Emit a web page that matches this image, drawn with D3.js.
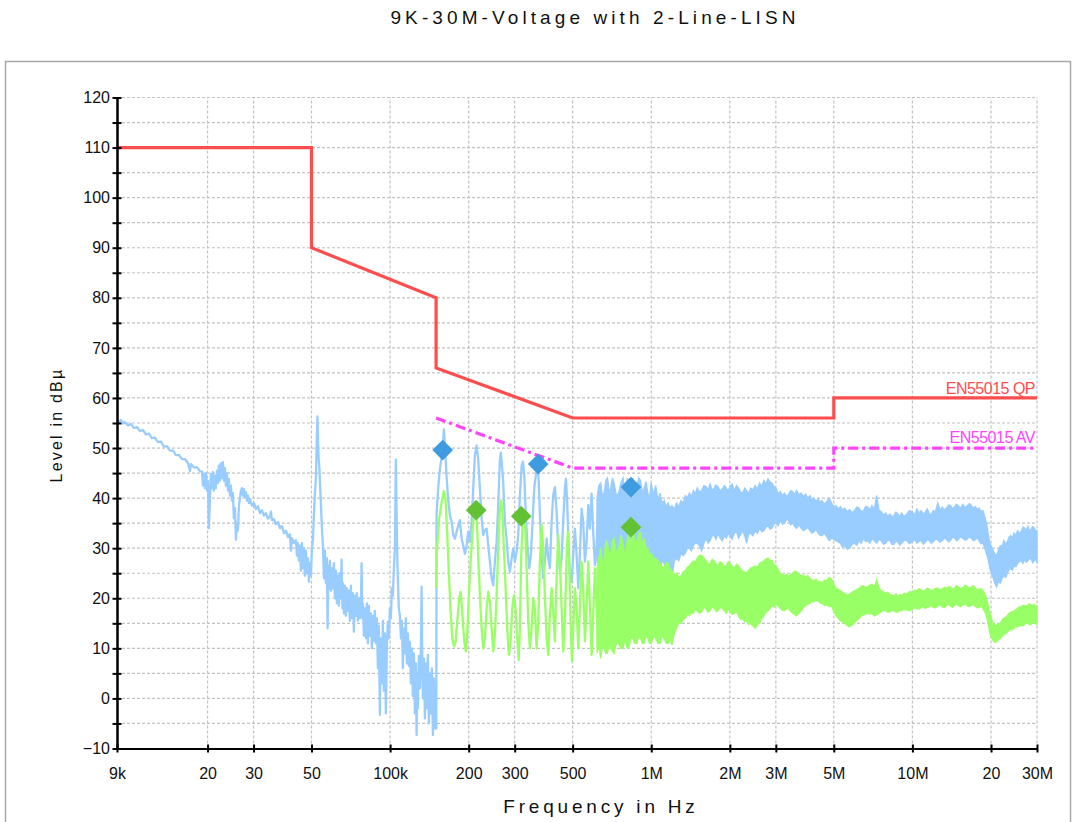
<!DOCTYPE html>
<html>
<head>
<meta charset="utf-8">
<script src="https://cdn.jsdelivr.net/npm/d3@7"></script>
<style>
  body { margin: 0; background: #fff; }
  svg { display: block; font-family: "Liberation Sans", Arial, sans-serif; }
</style>
</head>
<body>
<svg id="chart" width="1076" height="822"></svg>
<script>
// ---- axis definitions ----
const levelTicks = [-10, 0, 10, 20, 30, 40, 50, 60, 70, 80, 90, 100, 110, 120];
const levelMinorTicks = [-5, 5, 15, 25, 35, 45, 55, 65, 75, 85, 95, 105, 115];
const gridLevels = [-5, 0, 5, 10, 15, 20, 25, 30, 35, 40, 45, 50, 55, 60, 65, 70, 75, 80, 85, 90, 95, 100, 105, 110, 115, 120];
const freqTicks = [9e3, 2e4, 3e4, 5e4, 1e5, 2e5, 3e5, 5e5, 1e6, 2e6, 3e6, 5e6, 1e7, 2e7, 3e7];
const freqTickLabels = ["9k", "20", "30", "50", "100k", "200", "300", "500", "1M", "2M", "3M", "5M", "10M", "20", "30M"];

// ---- EN55015 limit lines [Hz, dBµV] ----
const qpLimit = [[9e3, 110], [50e3, 110], [50e3, 90], [150e3, 80], [150e3, 66], [500e3, 56], [5e6, 56], [5e6, 60], [30e6, 60]];
const avLimit = [[150e3, 56], [500e3, 46], [5e6, 46], [5e6, 50], [30e6, 50]];

// ---- peak detector trace, 9 kHz .. 640 kHz [kHz, dBµV] ----
const peakTrace = [
  [9.00,55.7],[9.16,55.2],[9.32,55.6],[9.49,54.9],[9.65,55.2],[9.91,54.5],[10.18,54.8],[10.45,54.0],[10.73,54.2],[11.02,53.4],
  [11.31,53.6],[11.62,52.7],[11.92,52.9],[12.24,52.0],[12.57,52.1],[12.91,51.2],[13.26,51.3],[13.61,50.3],[13.98,50.4],[14.35,49.5],
  [14.74,49.5],[15.13,48.6],[15.54,48.6],[15.96,47.8],[16.38,47.8],[16.82,47.0],[17.12,45.4],[17.27,46.8],[17.74,46.1],[18.21,46.2],
  [18.70,45.4],[19.03,45.3],[19.20,42.5],[19.37,44.8],[19.54,42.0],[19.71,45.0],[19.89,41.5],[20.06,43.5],[20.24,34.0],[20.42,40.0],
  [20.60,44.8],[20.78,42.0],[20.97,45.2],[21.15,41.5],[21.34,44.5],[21.53,42.0],[21.72,45.5],[21.91,43.0],[22.10,46.5],[22.30,43.5],
  [22.50,47.0],[22.70,44.0],[22.90,47.2],[23.10,43.5],[23.31,46.0],[23.51,42.5],[23.72,45.0],[23.93,41.5],[24.14,43.8],[24.36,40.5],
  [24.57,42.5],[24.79,39.5],[25.01,41.0],[25.23,36.0],[25.46,38.0],[25.68,31.7],[25.91,35.0],[26.14,33.5],[26.37,38.5],[26.61,40.0],
  [26.84,41.5],[27.08,42.0],[27.32,40.5],[27.56,41.8],[27.81,40.2],[28.05,41.2],[28.30,39.5],[28.55,40.5],[28.81,39.0],[29.06,39.8],
  [29.58,38.5],[30.11,39.0],[30.64,37.8],[31.18,38.4],[31.74,37.0],[32.30,37.6],[32.88,36.5],[33.46,37.0],[34.06,35.9],[34.66,36.3],
  [34.97,37.3],[35.28,35.6],[35.90,35.8],[36.54,34.8],[37.19,35.2],[37.85,34.0],[38.52,34.4],[39.21,33.0],[39.91,33.5],[40.62,32.2],
  [41.34,32.8],[41.71,29.5],[42.08,32.0],[42.82,31.0],[43.58,31.6],[43.97,28.5],[44.36,31.0],[44.75,27.5],[45.15,30.5],[45.55,25.5],
  [45.95,31.0],[46.36,26.0],[46.77,30.0],[47.18,24.5],[47.60,29.5],[48.02,25.0],[48.45,28.0],[48.88,23.3],[49.31,27.0],[49.75,24.5],
  [50.19,30.0],[50.63,31.5],[51.08,36.7],[51.53,41.0],[51.99,44.0],[52.45,53.0],[52.68,56.3],[53.06,50.0],[53.30,47.7],[53.63,46.0],
  [53.85,43.3],[54.33,39.0],[54.81,34.0],[55.30,30.5],[55.79,24.0],[56.28,29.5],[56.78,23.0],[57.28,28.0],[57.63,14.0],[58.04,26.5],
  [58.29,22.0],[58.81,27.5],[59.33,21.5],[59.86,26.0],[60.39,22.0],[60.92,27.0],[61.46,20.0],[62.00,25.5],[62.55,19.0],[63.11,24.5],
  [63.67,18.5],[64.23,25.0],[64.80,20.0],[65.20,27.7],[65.66,18.0],[65.95,23.0],[66.54,17.0],[67.13,22.5],[67.72,16.5],[68.32,22.0],
  [68.93,17.5],[69.54,21.5],[70.15,15.5],[70.77,22.5],[71.40,16.0],[72.03,21.0],[72.67,13.3],[73.31,20.5],[73.96,16.5],[74.61,21.0],
  [75.27,15.5],[75.94,20.0],[76.61,16.0],[77.29,19.0],[77.77,27.0],[78.32,16.0],[78.67,19.0],[79.36,12.5],[80.06,18.0],[80.77,12.0],
  [81.48,19.0],[82.21,11.0],[82.93,18.5],[83.67,12.5],[84.41,17.0],[85.16,10.0],[85.91,16.5],[86.67,11.5],[87.44,17.5],[88.21,11.0],
  [88.99,16.0],[89.78,6.0],[90.57,14.5],[91.38,-3.3],[92.18,12.0],[93.00,3.0],[93.82,15.5],[94.66,1.5],[95.50,13.0],[96.34,-3.0],
  [97.20,10.5],[98.06,15.3],[98.93,12.0],[99.80,18.0],[100.7,16.0],[101.6,22.0],[102.5,20.5],[103.4,26.0],[104.3,30.0],[105.2,47.7],
  [106.1,34.0],[106.6,27.3],[107.1,24.0],[108.0,18.0],[109.0,16.5],[110.0,12.0],[110.9,15.5],[111.9,6.0],[112.9,14.0],[113.9,9.0],
  [114.9,16.0],[115.9,7.0],[117.0,13.0],[118.0,6.5],[119.0,11.3],[120.1,3.0],[121.2,10.0],[122.2,0.5],[123.3,9.0],[124.4,-3.0],
  [125.5,7.0],[126.3,-7.3],[127.2,5.0],[127.7,-2.0],[128.9,8.5],[130.0,2.0],[131.2,10.0],[132.0,22.3],[132.9,6.0],[133.5,0.0],
  [134.7,8.0],[135.9,-4.0],[137.1,7.0],[138.3,-2.0],[139.5,8.7],[140.8,-5.0],[142.0,5.0],[143.3,-3.0],[144.5,6.0],[145.8,-7.3],
  [147.1,4.0],[148.4,-6.0],[149.7,0.0],[150.3,-6.0],[150.6,36.6],[152.8,41.9],[154.7,45.2],[158.9,49.9],[160.7,53.7],[162.5,49.9],
  [164.4,44.6],[166.7,39.9],[169.4,36.6],[172.0,35.3],[174.5,32.6],[177.1,31.9],[179.7,33.3],[185.0,35.6],[187.9,31.9],[190.6,30.6],
  [193.4,28.9],[196.3,30.6],[199.1,33.3],[202.1,31.3],[205.2,35.3],[208.1,41.9],[211.2,48.5],[214.4,50.5],[217.4,47.9],[220.7,41.9],
  [224.1,35.9],[227.3,32.6],[230.7,33.6],[234.2,33.9],[237.6,30.6],[241.1,27.3],[244.7,24.0],[248.3,22.6],[251.9,27.3],[255.8,31.3],
  [259.4,38.6],[263.3,47.9],[265.6,49.1],[268.7,45.9],[271.1,43.2],[275.2,35.3],[279.3,31.9],[283.3,27.3],[287.6,25.3],[292.0,28.0],
  [296.1,29.9],[300.5,27.3],[305.1,29.3],[309.5,32.6],[314.1,40.6],[318.9,46.5],[322.6,47.3],[326.4,44.6],[331.3,35.9],[336.3,29.9],
  [341.1,26.0],[346.0,28.6],[351.2,35.3],[356.3,41.9],[361.7,44.6],[366.5,47.0],[370.4,43.9],[374.6,36.6],[380.3,28.6],[385.7,24.0],
  [391.5,27.3],[397.5,31.9],[403.2,28.0],[409.2,26.0],[415.4,35.3],[421.4,40.6],[427.6,42.2],[434.2,37.3],[440.4,29.9],[446.9,25.3],
  [453.6,28.0],[460.1,35.3],[467.0,41.9],[471.2,43.9],[476.6,39.2],[482.6,29.9],[488.1,24.6],[495.6,23.3],[502.7,28.6],[510.1,33.9],
  [518.0,28.6],[525.4,22.0],[533.0,28.6],[541.1,37.9],[548.8,35.3],[557.1,27.3],[565.5,31.3],[573.7,38.6],[582.1,33.9],[590.9,40.9],
  [599.4,33.3],[608.4,26.6],[617.6,30.6],[626.5,38.6],[635.8,32.6]
];

// ---- average detector trace, 150 kHz .. 640 kHz [kHz, dBµV] ----
const avgTrace = [
  [150.0,22.0],[150.6,28.6],[154.2,35.9],[157.5,39.2],[160.7,41.4],[163.0,39.9],[165.3,33.3],[167.8,25.3],[170.5,17.3],[173.0,12.0],
  [175.6,10.4],[178.2,11.4],[180.7,15.3],[183.9,20.0],[186.2,21.3],[188.9,17.3],[192.2,11.4],[195.1,9.4],[197.3,12.7],[200.3,20.6],
  [203.4,27.3],[207.0,33.9],[210.0,37.3],[212.5,37.6],[215.0,35.3],[217.4,28.6],[220.7,20.6],[224.1,14.0],[227.3,10.0],[230.7,12.0],
  [234.2,18.0],[237.6,21.3],[241.1,19.3],[244.7,14.0],[248.3,9.4],[251.9,12.7],[255.8,20.6],[259.4,29.9],[263.3,37.9],[266.3,39.6],
  [269.6,36.6],[272.8,29.9],[276.9,22.0],[280.8,14.0],[285.1,8.7],[289.4,11.4],[293.5,18.0],[298.0,20.6],[302.4,18.0],[306.8,12.0],
  [310.6,7.7],[314.1,14.0],[317.8,28.6],[321.8,35.3],[325.5,37.3],[329.3,34.0],[333.4,25.3],[338.1,15.3],[343.0,10.0],[348.2,14.0],
  [353.1,20.0],[358.5,18.0],[363.9,10.0],[369.1,15.3],[374.6,27.3],[380.3,34.6],[385.7,29.9],[391.5,20.6],[397.5,12.0],[403.2,8.7],
  [409.2,16.7],[415.4,22.0],[421.4,17.3],[427.6,11.4],[434.2,24.6],[440.4,32.6],[446.9,27.3],[453.6,18.0],[460.1,9.4],[467.0,15.3],
  [474.1,28.6],[479.6,33.3],[485.2,27.3],[491.2,15.3],[496.9,7.4],[502.7,14.0],[510.1,22.0],[518.0,18.0],[525.4,10.0],[533.0,18.0],
  [541.1,27.3],[548.8,22.0],[557.1,11.4],[565.5,18.0],[573.7,27.3],[582.1,18.7],[590.9,8.7],[599.4,16.7],[608.4,26.0],[617.6,18.0],
  [626.5,10.0],[635.8,20.6]
];

// ---- dense sweep above 600 kHz: envelope per bin [MHz, min, max] ----
const peakBand = [
  [0.62,27,40],[0.63,29,42.5],[0.64,25,43],[0.65,28,40.5],[0.66,26,41],[0.67,29,43.5],[0.68,24,44],[0.69,28,41],[0.70,27,42],[0.71,29,44],
  [0.72,25,43],[0.735,28,40.5],[0.75,27,41],[0.765,29,43],[0.78,26,44],[0.79,29,41.5],[0.80,28,42],[0.81,29,44],[0.82,27,43],[0.835,29,41.5],
  [0.85,28,44],[0.865,29,41.8],[0.88,27,42],[0.895,29,44],[0.91,28,43.5],[0.925,28.5,41],[0.94,27,42],[0.955,28,43.3],[0.97,28,41],[0.985,27.5,40],
  [1.00,27,43],[1.02,27.5,40.5],[1.04,26,42.5],[1.06,27,39.5],[1.08,26,41],[1.10,27.5,39],[1.12,27,39.5],[1.14,25.5,38.3],[1.16,26,39],[1.18,27,38],
  [1.20,24,38.5],[1.225,27.5,37.8],[1.25,28,39],[1.275,27.5,38.3],[1.30,29,39.5],[1.325,28.5,39],[1.35,29,40.5],[1.375,30,40],[1.40,30,41],[1.425,29.5,40.3],
  [1.45,30.5,41.5],[1.475,31,40.8],[1.50,31,42],[1.53,30.5,41.2],[1.56,29.5,41.5],[1.59,31,42.5],[1.62,32,42.3],[1.65,31,41.6],[1.68,31.5,42.8],[1.71,32.5,41.5],
  [1.74,32.5,42],[1.77,31.8,42.6],[1.80,33,42.3],[1.835,32,41.4],[1.87,31.5,41.8],[1.905,32.5,42.5],[1.94,32,42],[1.97,33,41.3],[2.00,32.5,42.3],[2.04,31.8,42.8],
  [2.08,33,41.5],[2.12,33.3,42.5],[2.16,32,42],[2.20,32.8,41.2],[2.24,33.5,41],[2.28,32.5,42],[2.32,31,41.5],[2.36,32.8,40.8],[2.40,33,42],[2.45,32.5,41.6],
  [2.50,33.5,42.5],[2.55,33,41.8],[2.60,34,43],[2.65,33.3,42.3],[2.70,33.5,43.5],[2.75,34.2,42.8],[2.80,34.5,43.8],[2.85,33.8,43.2],[2.90,34,43],[2.95,34.8,42.3],
  [3.00,35,42],[3.06,34.5,40.8],[3.12,35.5,41.3],[3.18,34.8,40.5],[3.24,35,41],[3.30,35.8,40.3],[3.36,35.5,40.8],[3.42,34.7,41.5],[3.48,35,41.3],[3.54,34.3,40.6],
  [3.60,34,41.5],[3.675,34.6,40.7],[3.75,34,41],[3.825,33.5,40.3],[3.90,33.8,40.8],[3.975,34.2,40],[4.05,33.5,40.5],[4.125,33,39.5],[4.20,33.3,40],[4.275,33.8,39.3],
  [4.35,33,39.8],[4.425,32.6,39.2],[4.50,32.5,39.5],[4.60,33,38.8],[4.70,32.3,39.3],[4.80,31.5,40],[4.90,32,39],[5.00,31.8,38.3],[5.10,31.5,38.5],[5.20,31.2,37.8],
  [5.30,31,38.3],[5.40,30.2,37.6],[5.50,30.5,38],[5.625,29.8,37.3],[5.75,30,37.7],[5.875,30.8,37.1],[6.00,31,37.5],[6.125,30.6,38.2],[6.25,31.5,38],[6.375,31,37.3],
  [6.50,32,37.5],[6.625,31.3,38.3],[6.75,31.5,38.2],[6.875,31,37.6],[7.00,32,38.5],[7.15,31.5,37.8],[7.30,31,40.5],[7.45,31.8,37.5],[7.60,31.5,37.3],[7.75,30.8,36.6],
  [7.90,31,37],[8.05,31.6,36.4],[8.20,31.5,36.8],[8.35,30.8,36.2],[8.50,30.8,36.5],[8.65,31.4,37.2],[8.80,31.2,36.8],[8.95,30.6,36.4],[9.10,31,37],[9.30,31.6,36.3],
  [9.50,31.5,36.8],[9.75,30.9,37.5],[10.0,31.3,37.2],[10.2,31.8,36.6],[10.4,31,37.8],[10.6,31.4,37],[10.8,31.5,37.5],[11.0,30.8,36.8],[11.2,31.2,37.2],[11.4,31.7,37.8],
  [11.6,31.5,37],[11.8,31,36.6],[12.0,31.3,37.5],[12.25,31.8,37.2],[12.5,31.7,39],[12.75,31.2,37.6],[13.0,31.5,38.2],[13.25,32,37.6],[13.5,31.8,38],[13.75,31.3,38.6],
  [14.0,31.6,38.5],[14.25,32.2,37.8],[14.5,32,38.3],[14.75,31.5,38.8],[15.0,31.8,38.5],[15.3,32.3,37.9],[15.6,32,38.7],[15.9,31.6,38.1],[16.2,31.8,38.4],[16.5,32.3,38.9],
  [16.8,32,38.6],[17.1,31.5,38],[17.4,31.7,38.3],[17.7,32.1,37.8],[18.0,31.5,38],[18.3,30.9,37.3],[18.6,31,37.5],[18.9,30.2,36.4],[19.2,29,35],[19.5,27.8,33],
  [19.8,26,31],[20.1,24.8,30.2],[20.4,24,29.5],[20.7,23,28.8],[21.0,22.3,28.5],[21.35,23.4,29.6],[21.7,23,30.5],[22.05,24,30.3],[22.4,24.5,31.5],[22.75,24.2,30.8],
  [23.1,25,31.3],[23.45,25.8,32.2],[23.8,26,32.5],[24.15,25.6,32],[24.5,26.5,33],[24.9,26.3,32.6],[25.3,27,33.5],[25.7,27.4,33],[26.1,27.5,33.3],[26.5,27,34.2],
  [26.9,27.8,34],[27.3,27.2,33.6],[27.7,27.5,34.3],[28.1,28,33.4],[28.5,27.8,33.8],[28.9,27.1,34.3],[29.3,27.5,34],[29.65,28,33.4],[30.0,27,33.5]
];
const avgBand = [
  [0.62,9,26],[0.63,11,28],[0.64,8,30],[0.65,10.5,27],[0.66,10,28],[0.67,9,31.5],[0.68,9,31],[0.69,11,28.5],[0.70,10,29],[0.71,9.5,31.5],
  [0.72,9,32],[0.735,11,29],[0.75,11,30],[0.765,10,32.5],[0.78,10,31],[0.79,11.5,29],[0.80,11,29],[0.81,10,32],[0.82,10,33],[0.835,12,30.5],
  [0.85,12,34],[0.865,11,31.5],[0.88,11,31],[0.895,12.5,33],[0.91,12,33],[0.925,11,30.5],[0.94,11,32],[0.955,12.5,30],[0.97,12,30],[0.985,11,28.5],
  [1.00,11,29],[1.02,12.5,28],[1.04,12,28],[1.06,11,27.5],[1.08,11,27],[1.10,12.5,26.3],[1.12,12,26],[1.14,11,27.2],[1.16,11,27],[1.18,12,25.8],
  [1.20,10.7,25.5],[1.225,13,24.6],[1.25,14,25],[1.275,15.2,24.2],[1.30,15,24.5],[1.325,15.8,25.3],[1.35,16,25.5],[1.375,16.8,26.2],[1.40,16.5,26.5],[1.425,17.2,27],
  [1.45,17,27.5],[1.475,17.8,27.2],[1.50,17.5,28],[1.53,17,28.6],[1.56,17.3,28.5],[1.59,18.2,28],[1.62,18,27.5],[1.65,17.2,26.8],[1.68,17.5,27],[1.71,18.3,27.8],
  [1.74,18,27.5],[1.77,17.4,26.8],[1.80,17.5,26.5],[1.835,18.2,27.3],[1.87,18,27],[1.905,17.5,26.3],[1.94,17,26.5],[1.97,17.8,27.3],[2.00,17.5,27],[2.04,16.8,26.4],
  [2.08,17,26],[2.12,17.3,26.8],[2.16,16.5,26.5],[2.20,15.8,25.8],[2.24,16,25.5],[2.28,15.3,25.2],[2.32,15.5,25],[2.36,14.8,25.6],[2.40,15,26],[2.45,14.5,26.2],
  [2.50,14,26.5],[2.55,14.8,26.2],[2.60,15,27],[2.65,16,27.2],[2.70,16.5,27.5],[2.75,17.2,27.8],[2.80,17.5,28],[2.85,18,27.6],[2.90,18.5,27.5],[2.95,18.2,26.8],
  [3.00,19,26.5],[3.06,18.4,25.7],[3.12,18,25],[3.18,17.6,24.7],[3.24,17.5,24.5],[3.30,17.9,24.8],[3.36,18,24.3],[3.42,17.4,24.8],[3.48,17,25],[3.54,16.8,25.4],
  [3.60,16.5,25.3],[3.675,17,24.8],[3.75,17.5,24.5],[3.825,18.1,24.6],[3.90,18.5,24.2],[3.975,18.8,24.5],[4.05,19,24],[4.125,19.4,23.6],[4.20,19.3,23.5],[4.275,19.6,23.8],
  [4.35,19.5,23.2],[4.425,19.1,23.4],[4.50,19,23],[4.60,18.6,23.6],[4.70,18.7,23.5],[4.80,18.3,24.2],[4.90,18.5,23.8],[5.00,17.4,22.8],[5.10,16.5,22],[5.20,16,21.8],
  [5.30,15.5,21.5],[5.40,15.3,21.2],[5.50,15,21],[5.625,14.6,20.6],[5.75,14.3,20.8],[5.875,14.7,21.2],[6.00,15,21.5],[6.125,15.6,21.7],[6.25,16,22],[6.375,16.5,22.4],
  [6.50,16.7,22.5],[6.625,16.9,22.1],[6.75,17,22.3],[6.875,16.8,22.6],[7.00,17,22.8],[7.15,16.5,22.2],[7.30,16.7,23.7],[7.45,17.1,22],[7.60,17.3,21.5],[7.75,17.6,21.3],
  [7.90,17.5,21],[8.05,17.2,21.2],[8.20,17.3,20.8],[8.35,17.6,20.6],[8.50,17.5,20.5],[8.65,17.2,20.9],[8.80,17.3,20.3],[8.95,17.6,20.7],[9.10,17.5,20.6],[9.30,17.8,21],
  [9.50,17.7,20.8],[9.75,17.5,21.3],[10.0,17.8,21.2],[10.2,18.1,21.6],[10.4,18,21.5],[10.6,17.8,21.9],[10.8,18.2,21.7],[11.0,18.4,21.4],[11.2,18,21.5],[11.4,18.2,22],
  [11.6,18.3,21.8],[11.8,18.6,21.5],[12.0,18.2,21.6],[12.25,18.1,22],[12.5,18.4,22],[12.75,18.7,21.7],[13.0,18.3,21.8],[13.25,18.1,22.2],[13.5,18.5,22],[13.75,18.8,22.3],
  [14.0,18.4,22.2],[14.25,18.2,21.8],[14.5,18.6,22],[14.75,18.9,22.5],[15.0,18.5,22.3],[15.3,18.3,21.9],[15.6,18.7,22.1],[15.9,18.9,22.6],[16.2,18.5,22.4],[16.5,18.3,22],
  [16.8,18.6,22.2],[17.1,18.8,22.5],[17.4,18.4,22],[17.7,18.1,21.7],[18.0,18.2,21.8],[18.3,18.4,21.9],[18.6,18,21.5],[18.9,17.4,21],[19.2,16.5,20],[19.5,15,18.6],
  [19.8,13,17],[20.1,12.1,15.8],[20.4,11.5,15],[20.7,11.2,14.6],[21.0,11.3,14.5],[21.35,11.8,14.9],[21.7,12,15],[22.05,12.4,15.7],[22.4,12.7,16],[22.75,13,16.2],
  [23.1,13.2,16.5],[23.45,13.6,17],[23.8,13.8,17.2],[24.15,13.7,17.3],[24.5,14,17.5],[24.9,14.4,17.7],[25.3,14.3,18],[25.7,14.5,18.3],[26.1,14.6,18.2],[26.5,14.5,18.6],
  [26.9,14.8,18.5],[27.3,15.1,18.4],[27.7,15,18.7],[28.1,14.7,18.9],[28.5,14.8,18.6],[28.9,15.3,18.5],[29.3,15.2,18.8],[29.65,14.9,18.3],[30.0,14.8,18.5]
];

// ---- final measurement markers [Hz, dBµV] ----
const peakMarkers = [[159e3, 49.6], [369e3, 46.8], [836e3, 42.2]];
const avgMarkers = [[213.6e3, 37.6], [317.8e3, 36.4], [836e3, 34.2]];

// ---- chart ----
const svg = d3.select("#chart");
const x = d3.scaleLog().domain([9e3, 30e6]).range([117, 1037]);
const y = d3.scaleLinear().domain([-10, 120]).range([748.5, 97.5]);

// outer frame
svg.append("rect")
  .attr("x", 5.5).attr("y", 61.5).attr("width", 1065).attr("height", 780)
  .attr("fill", "none").attr("stroke", "#a8a8a8").attr("stroke-width", 1.5);

// title
svg.append("text")
  .attr("x", 595).attr("y", 24).attr("text-anchor", "middle")
  .attr("font-size", 19).attr("letter-spacing", 4.1).attr("fill", "#111")
  .text("9K-30M-Voltage with 2-Line-LISN");

// grid
const grid = svg.append("g")
  .attr("stroke", "#c2c2c2").attr("stroke-width", 1.2).attr("stroke-dasharray", "3,2");
grid.selectAll("line.h").data(gridLevels).join("line").attr("class", "h")
  .attr("x1", x(9e3)).attr("x2", x(30e6)).attr("y1", d => y(d)).attr("y2", d => y(d));
grid.selectAll("line.v").data(freqTicks.slice(1)).join("line").attr("class", "v")
  .attr("x1", d => x(d)).attr("x2", d => x(d)).attr("y1", y(-10)).attr("y2", y(120));

// traces
const plot = svg.append("g");
const band = d3.area().x(d => x(d[0] * 1e6)).y0(d => y(d[1])).y1(d => y(d[2]));
const trace = d3.line().x(d => x(d[0] * 1e3)).y(d => y(d[1]));

plot.append("path").datum(peakBand).attr("d", band)
  .attr("fill", "#99ccff").attr("stroke", "#99ccff").attr("stroke-width", 1.4);
plot.append("path").datum(peakTrace).attr("d", trace)
  .attr("fill", "none").attr("stroke", "#99ccff").attr("stroke-width", 2.3).attr("stroke-linejoin", "round");
plot.append("path").datum(avgBand).attr("d", band)
  .attr("fill", "#99ff66").attr("stroke", "#99ff66").attr("stroke-width", 1.4);
plot.append("path").datum(avgTrace).attr("d", trace)
  .attr("fill", "none").attr("stroke", "#99ff66").attr("stroke-width", 2.3).attr("stroke-linejoin", "round");

// limit lines
const limit = d3.line().x(d => x(d[0])).y(d => y(d[1]));
plot.append("path").datum(avLimit).attr("d", limit)
  .attr("fill", "none").attr("stroke", "#ff44ff").attr("stroke-width", 3.2)
  .attr("stroke-dasharray", "10,4,3,4");
plot.append("path").datum(qpLimit).attr("d", limit)
  .attr("fill", "none").attr("stroke", "#ff4d4d").attr("stroke-width", 3.2);

svg.append("text").attr("x", 1035).attr("y", 394).attr("text-anchor", "end")
  .attr("font-size", 16).attr("letter-spacing", -0.5).attr("fill", "#ff4d4d").text("EN55015 QP");
svg.append("text").attr("x", 1035).attr("y", 443).attr("text-anchor", "end")
  .attr("font-size", 16).attr("letter-spacing", -0.5).attr("fill", "#ff44ff").text("EN55015 AV");

// markers
const diamond = d3.symbol().type(d3.symbolSquare).size(215);
plot.selectAll("path.pk").data(peakMarkers).join("path").attr("class", "pk")
  .attr("d", diamond)
  .attr("transform", d => `translate(${x(d[0])},${y(d[1])}) rotate(45)`)
  .attr("fill", "#3f9be0");
plot.selectAll("path.av").data(avgMarkers).join("path").attr("class", "av")
  .attr("d", diamond)
  .attr("transform", d => `translate(${x(d[0])},${y(d[1])}) rotate(45)`)
  .attr("fill", "#62c234");

// y axis
const yAxis = svg.append("g").attr("transform", `translate(${x(9e3)},0)`)
  .call(d3.axisLeft(y).tickValues(levelTicks).tickSize(0).tickPadding(8).tickFormat(d3.format("d")));
const yMinor = svg.append("g").attr("transform", `translate(${x(9e3)},0)`)
  .call(d3.axisLeft(y).tickValues(levelMinorTicks).tickSize(0).tickFormat(""));
[yAxis, yMinor].forEach(g => {
  g.select(".domain").attr("stroke", "#000").attr("stroke-width", 2);
  g.selectAll(".tick line").attr("x1", -4.5).attr("x2", 4.5).attr("stroke", "#000").attr("stroke-width", 2);
});
yAxis.selectAll(".tick text").attr("x", -7).attr("font-size", 16).attr("fill", "#111")
  .attr("font-family", "Liberation Sans, Arial, sans-serif");

// x axis
const xAxis = svg.append("g").attr("transform", `translate(0,${y(-10)})`)
  .call(d3.axisBottom(x).tickValues(freqTicks).tickSize(0)
    .tickFormat((d, i) => freqTickLabels[i]));
xAxis.select(".domain").attr("stroke", "#000").attr("stroke-width", 2);
xAxis.selectAll(".tick line").attr("y1", -4).attr("y2", 4).attr("stroke", "#000").attr("stroke-width", 2);
xAxis.selectAll(".tick text").attr("y", 19).attr("font-size", 16).attr("fill", "#111")
  .attr("font-family", "Liberation Sans, Arial, sans-serif");

// axis titles
svg.append("text").attr("x", 601).attr("y", 813).attr("text-anchor", "middle")
  .attr("font-size", 19).attr("letter-spacing", 3.8).attr("fill", "#111").text("Frequency in Hz");
svg.append("text").attr("transform", "translate(62,425) rotate(-90)").attr("text-anchor", "middle")
  .attr("font-size", 16).attr("letter-spacing", 2.2).attr("fill", "#111").text("Level in dBµ");
</script>
</body>
</html>
